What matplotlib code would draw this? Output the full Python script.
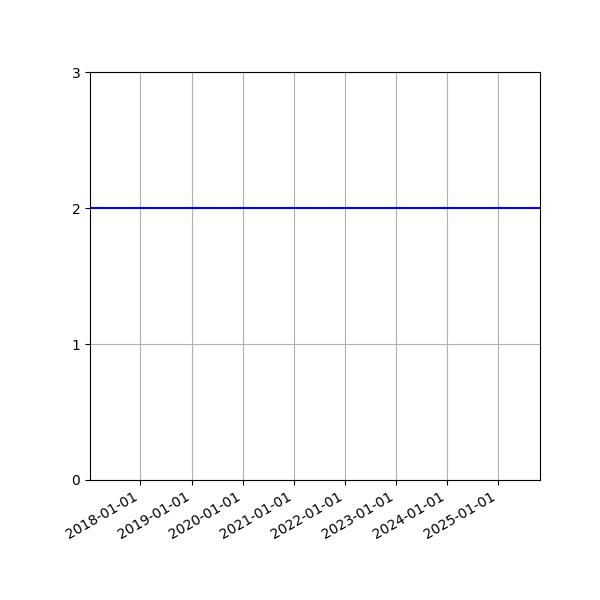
import numpy as np
import pandas as pd
import matplotlib
matplotlib.use("Agg")
import matplotlib.pyplot as plt
import matplotlib.dates as mdates

# Data: constant value over the period
start_date = "2017-01-05"
end_date = "2025-10-27"
level = 2.0
y_ticks = [0, 1, 2, 3]

dates = pd.to_datetime([start_date, end_date])
values = np.array([level, level])

fig, ax = plt.subplots(figsize=(6, 6), dpi=100)
fig.subplots_adjust(left=0.15, right=0.9, top=0.88)

ax.plot(dates, values, color="blue", linewidth=1.5)
ax.set_xlim(dates[0], dates[-1])
ax.set_ylim(0, 3)
ax.set_yticks(y_ticks)

ax.xaxis.set_major_locator(mdates.YearLocator())
ax.xaxis.set_major_formatter(mdates.DateFormatter("%Y-%m-%d"))
ax.grid(True)

fig.autofmt_xdate()
fig.savefig("out.png", dpi=100)
